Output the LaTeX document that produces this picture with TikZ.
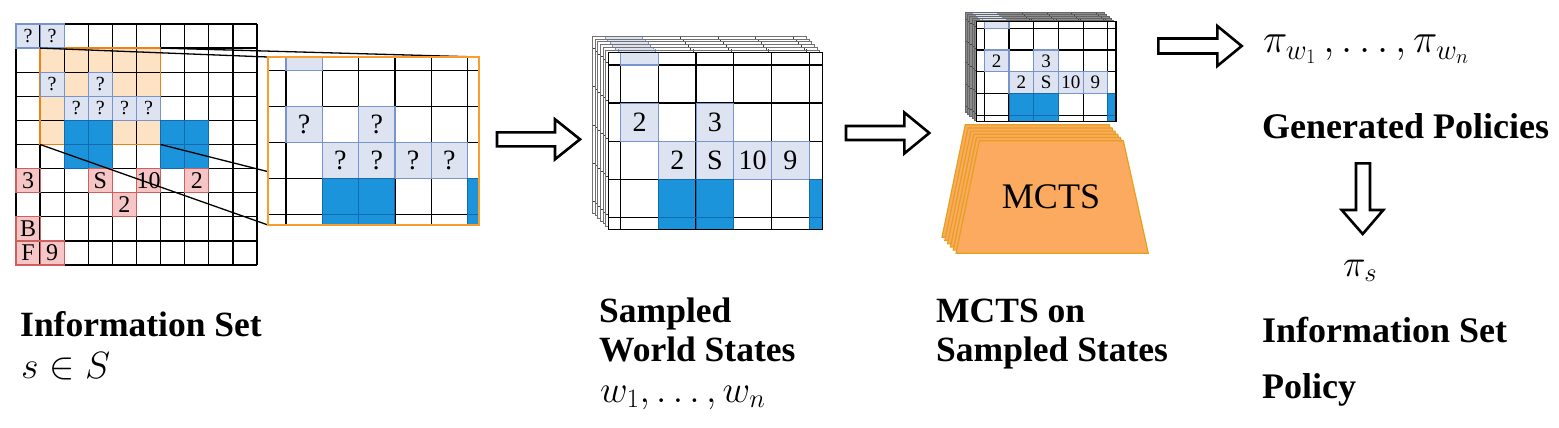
\RequirePackage{fix-cm}
\documentclass[tikz,border=0pt]{standalone}
\usepackage[no-math]{fontspec}
\setmainfont{Liberation Serif}
\definecolor{lbfill}{RGB}{221,227,240}
\definecolor{lbdraw}{RGB}{120,148,205}
\definecolor{bluefill}{RGB}{27,148,220}
\definecolor{bluedraw}{RGB}{20,105,175}
\definecolor{pinkfill}{RGB}{246,198,198}
\definecolor{pinkdraw}{RGB}{205,95,95}
\definecolor{peachfill}{RGB}{253,226,196}
\definecolor{peachdraw}{RGB}{238,128,20}
\definecolor{zoomdraw}{RGB}{247,158,45}
\definecolor{mctsfill}{RGB}{251,170,96}
\definecolor{mctsdraw}{RGB}{228,160,30}
\definecolor{backgray}{RGB}{140,140,140}
\tikzset{
  gline/.style={draw=black, line width=1.3pt},
  lbline/.style={draw=lbdraw, line width=1.2pt},
  bline/.style={draw=bluedraw, line width=0.9pt},
  pline/.style={draw=pinkdraw, line width=1.2pt},
  layerbg/.style={fill=white},
  layerborder/.style={draw=black, line width=1.3pt},
  ctext/.style={inner sep=0pt, font=\fontsize{28}{28}\selectfont},
  ltext/.style={inner sep=0pt, font=\fontsize{24}{24}\selectfont},
  qtext/.style={inner sep=0pt, font=\fontsize{20}{20}\selectfont},
  boldlbl/.style={inner sep=0pt, anchor=base west, font=\fontsize{35.5}{36}\selectfont\bfseries},
  boldlblR/.style={inner sep=0pt, anchor=base west, font=\fontsize{36}{36}\selectfont\bfseries},
  mathlbl/.style={inner sep=0pt, anchor=base west, font=\fontsize{38}{38}\selectfont},
  barrow/.style={draw=black, line width=2.6pt, fill=white, line join=miter},
  mctsshape/.style={fill=mctsfill, draw=mctsdraw, line width=1.2pt},
  zline/.style={draw=black, line width=1.3pt},
}
\def\lprefix{s}
% #1,#2 top-left, #3 width, #4 height, #5 first col line offset, #6 first row line offset,
% #7 cell width, #8 cell height, #9 labels: 0 none, 1 numbers, 2 question marks
\newcommand\statelayer[9]{%
  \begin{scope}[shift={(#1,#2)}]
    \path[layerbg] (0,0) rectangle (#3,#4);
    \begin{scope}
      \clip (0,0) rectangle (#3,#4);
      \begin{scope}[shift={(#5-#7,#6-#8)}, x=#7pt, y=-#8pt]
        \foreach \cc/\rr in {1/0,1/2,3/2,2/3,3/3,4/3,5/3}
          {\fill[lbfill] (\cc,\rr) rectangle ++(1,1);}
        \foreach \cc/\rr in {2/4,3/4,2/5,3/5,6/4,6/5}
          {\fill[bluefill] (\cc,\rr) rectangle ++(1,1);}
        \foreach \cc in {1,...,6} {\draw[gline] (\cc,-1) -- (\cc,8);}
        \foreach \rr in {1,...,5} {\draw[gline] (-1,\rr) -- (8,\rr);}
        \foreach \cc/\rr in {1/0,1/2,3/2,2/3,3/3,4/3,5/3}
          {\draw[lbline] (\cc,\rr) rectangle ++(1,1);}
        \foreach \cc/\rr in {2/4,3/4,2/5,3/5,6/4,6/5}
          {\draw[bline] (\cc,\rr) rectangle ++(1,1);}
        \ifcase#9\relax
        \or
          \foreach \cc/\rr/\tt in {1/2/2,3/2/3,2/3/2,3/3/S,4/3/10,5/3/9}
            {\node[ctext] (\lprefix-\cc-\rr) at (\cc+0.5,\rr+0.5) {\tt};}
        \or
          \foreach \cc/\rr in {1/2,3/2,2/3,3/3,4/3,5/3}
            {\node[ctext] (\lprefix-\cc-\rr) at (\cc+0.5,\rr+0.5) {?};}
        \fi
      \end{scope}
    \end{scope}
    \draw[layerborder] (0,0) rectangle (#3,#4);
  \end{scope}}
\begin{document}
\begin{tikzpicture}[x=1pt,y=-1pt]
\useasboundingbox (0,0) rectangle (1559,428);

% ---------------- left information-set grid ----------------
\begin{scope}[shift={(16,24)}, x=24.1pt, y=-24.1pt]
  \fill[peachfill] (1,1) rectangle (6,5);
  \foreach \cc/\rr in {0/0,1/0,1/2,3/2,2/3,3/3,4/3,5/3}
    {\fill[lbfill] (\cc,\rr) rectangle ++(1,1);}
  \foreach \cc/\rr in {2/4,3/4,2/5,3/5,6/4,7/4,6/5,7/5}
    {\fill[bluefill] (\cc,\rr) rectangle ++(1,1);}
  \foreach \cc/\rr in {0/6,3/6,5/6,7/6,4/7,0/8,0/9,1/9}
    {\fill[pinkfill] (\cc,\rr) rectangle ++(1,1);}
  \foreach \i in {0,...,10}{
    \draw[gline] (\i,0) -- (\i,10);
    \draw[gline] (0,\i) -- (10,\i);
  }
  \draw[draw=peachdraw, line width=1.4pt] (1,1) rectangle (6,5);
  \foreach \cc/\rr in {0/0,1/0,1/2,3/2,2/3,3/3,4/3,5/3}
    {\draw[lbline] (\cc,\rr) rectangle ++(1,1);}
  \foreach \cc/\rr in {2/4,3/4,2/5,3/5,6/4,7/4,6/5,7/5}
    {\draw[bline] (\cc,\rr) rectangle ++(1,1);}
  \foreach \cc/\rr in {0/6,3/6,5/6,7/6,4/7,0/8,0/9,1/9}
    {\draw[pline] (\cc,\rr) rectangle ++(1,1);}
  \foreach \cc/\rr in {0/0,1/0,1/2,3/2,2/3,3/3,4/3,5/3}
    {\node[qtext] (lg-\cc-\rr) at (\cc+0.5,\rr+0.5) {?};}
  \foreach \cc/\rr/\tt in {0/6/3,3/6/S,5/6/10,7/6/2,4/7/2,0/8/B,0/9/F,1/9/9}
    {\node[ltext] (lg-\cc-\rr) at (\cc+0.5,\rr+0.5) {\tt};}
  \coordinate (zA) at (1,1);
  \coordinate (zB) at (6,1);
  \coordinate (zC) at (1,5);
  \coordinate (zD) at (6,5);
\end{scope}

% zoom lines
\coordinate (bA) at (268,57);
\coordinate (bB) at (479,57);
\coordinate (bC) at (268,225);
\coordinate (bD) at (479,225);
\draw[zline] (zA) -- (bA);
\draw[zline] (zB) -- (bB);
\draw[zline] (zC) -- (bC);
\draw[zline] (zD) -- (bD);

% zoomed box
\begingroup
\tikzset{layerborder/.style={draw=zoomdraw, line width=2.6pt}}
\def\lprefix{zm}
\statelayer{268}{57}{211}{168}{18}{13.7}{36.3}{36}{2}
\endgroup

% ---------------- sampled world states stack ----------------
\begingroup
\tikzset{gline/.style={draw=black!75, line width=0.9pt},
         layerborder/.style={draw=black!55, line width=0.9pt},
         lbline/.style={draw=lbdraw, line width=0.9pt}}
\foreach \k in {6,5,4,3,2,1}{
  \statelayer{608.3-2.6*\k}{52.7-2.7*\k}{214}{176.6}{12.4}{12.3}{37.7}{38.1}{0}
}
\endgroup
\begingroup
\def\lprefix{ws}
\statelayer{608.3}{52.7}{214}{176.6}{12.4}{12.3}{37.7}{38.1}{1}
\endgroup

% ---------------- MCTS panel ----------------
\begingroup
\tikzset{gline/.style={draw=black!75, line width=0.7pt},
         layerbg/.style={fill=backgray},
         layerborder/.style={draw=black!60, line width=0.7pt},
         lbline/.style={draw=lbdraw, line width=0.7pt}}
\foreach \k in {5,4,3,2,1}{
  \statelayer{976.7-2.3*\k}{21.7-1.8*\k}{139.3}{100}{7.6}{6.6}{24.7}{21.7}{0}
}
\endgroup
\begingroup
\tikzset{ctext/.style={inner sep=0pt, font=\fontsize{19}{19}\selectfont},
         gline/.style={draw=black, line width=1.1pt},
         layerborder/.style={draw=black, line width=1.1pt}}
\def\lprefix{mg}
\statelayer{976.7}{21.7}{139.3}{100}{7.6}{6.6}{24.7}{21.7}{1}
\endgroup

\foreach \k in {5,4,3,2,1,0}{
  \begin{scope}[shift={(-2.8*\k,-3.2*\k)}]
    \draw[mctsshape] (979.3,140.7) -- (1123.3,140.7) -- (1148.3,253.3) -- (956,253.3) -- cycle;
  \end{scope}
}
\node[inner sep=0pt, font=\fontsize{36}{36}\selectfont] (mcts) at (1051,197) {MCTS};

% ---------------- block arrows ----------------
\draw[barrow] (497,132.3) -- (555,132.3) -- (555,119.3) -- (580,139.3) -- (555,159.3) -- (555,146.3) -- (497,146.3) -- cycle;
\draw[barrow] (846,126) -- (904.3,126) -- (904.3,112.5) -- (929.3,133) -- (904.3,153.5) -- (904.3,140) -- (846,140) -- cycle;
\draw[barrow] (1158.3,38.5) -- (1217.3,38.5) -- (1217.3,26) -- (1241.7,46) -- (1217.3,66) -- (1217.3,53.5) -- (1158.3,53.5) -- cycle;
\draw[barrow] (1356,163.3) -- (1370,163.3) -- (1370,210) -- (1383.3,210) -- (1362.7,234) -- (1341.7,210) -- (1356,210) -- cycle;

% ---------------- labels ----------------
\node[boldlbl] (infoL) at (20,336) {Information Set};
\node[mathlbl] (sinS) at (21,378) {$s\in S$};
\node[boldlbl] (sampled) at (599,322) {Sampled};
\node[boldlbl] (world) at (599,361) {World States};
\node[mathlbl] (wn) at (600,402) {$w_1,\ldots,w_n$};
\node[boldlbl] (mctson) at (936,322) {MCTS on};
\node[boldlbl] (sampst) at (936,361) {Sampled States};
\node[mathlbl, font=\fontsize{41}{41}\selectfont] (piw) at (1263,53) {$\pi_{w_1}\,,\ldots,\pi_{w_n}$};
\node[boldlblR] (gen) at (1262,138) {Generated Policies};
\node[mathlbl] (pis) at (1343,276) {$\pi_s$};
\node[boldlblR] (infoR) at (1262,342) {Information Set};
\node[boldlblR] (policy) at (1262,398) {Policy};
\end{tikzpicture}
\end{document}
